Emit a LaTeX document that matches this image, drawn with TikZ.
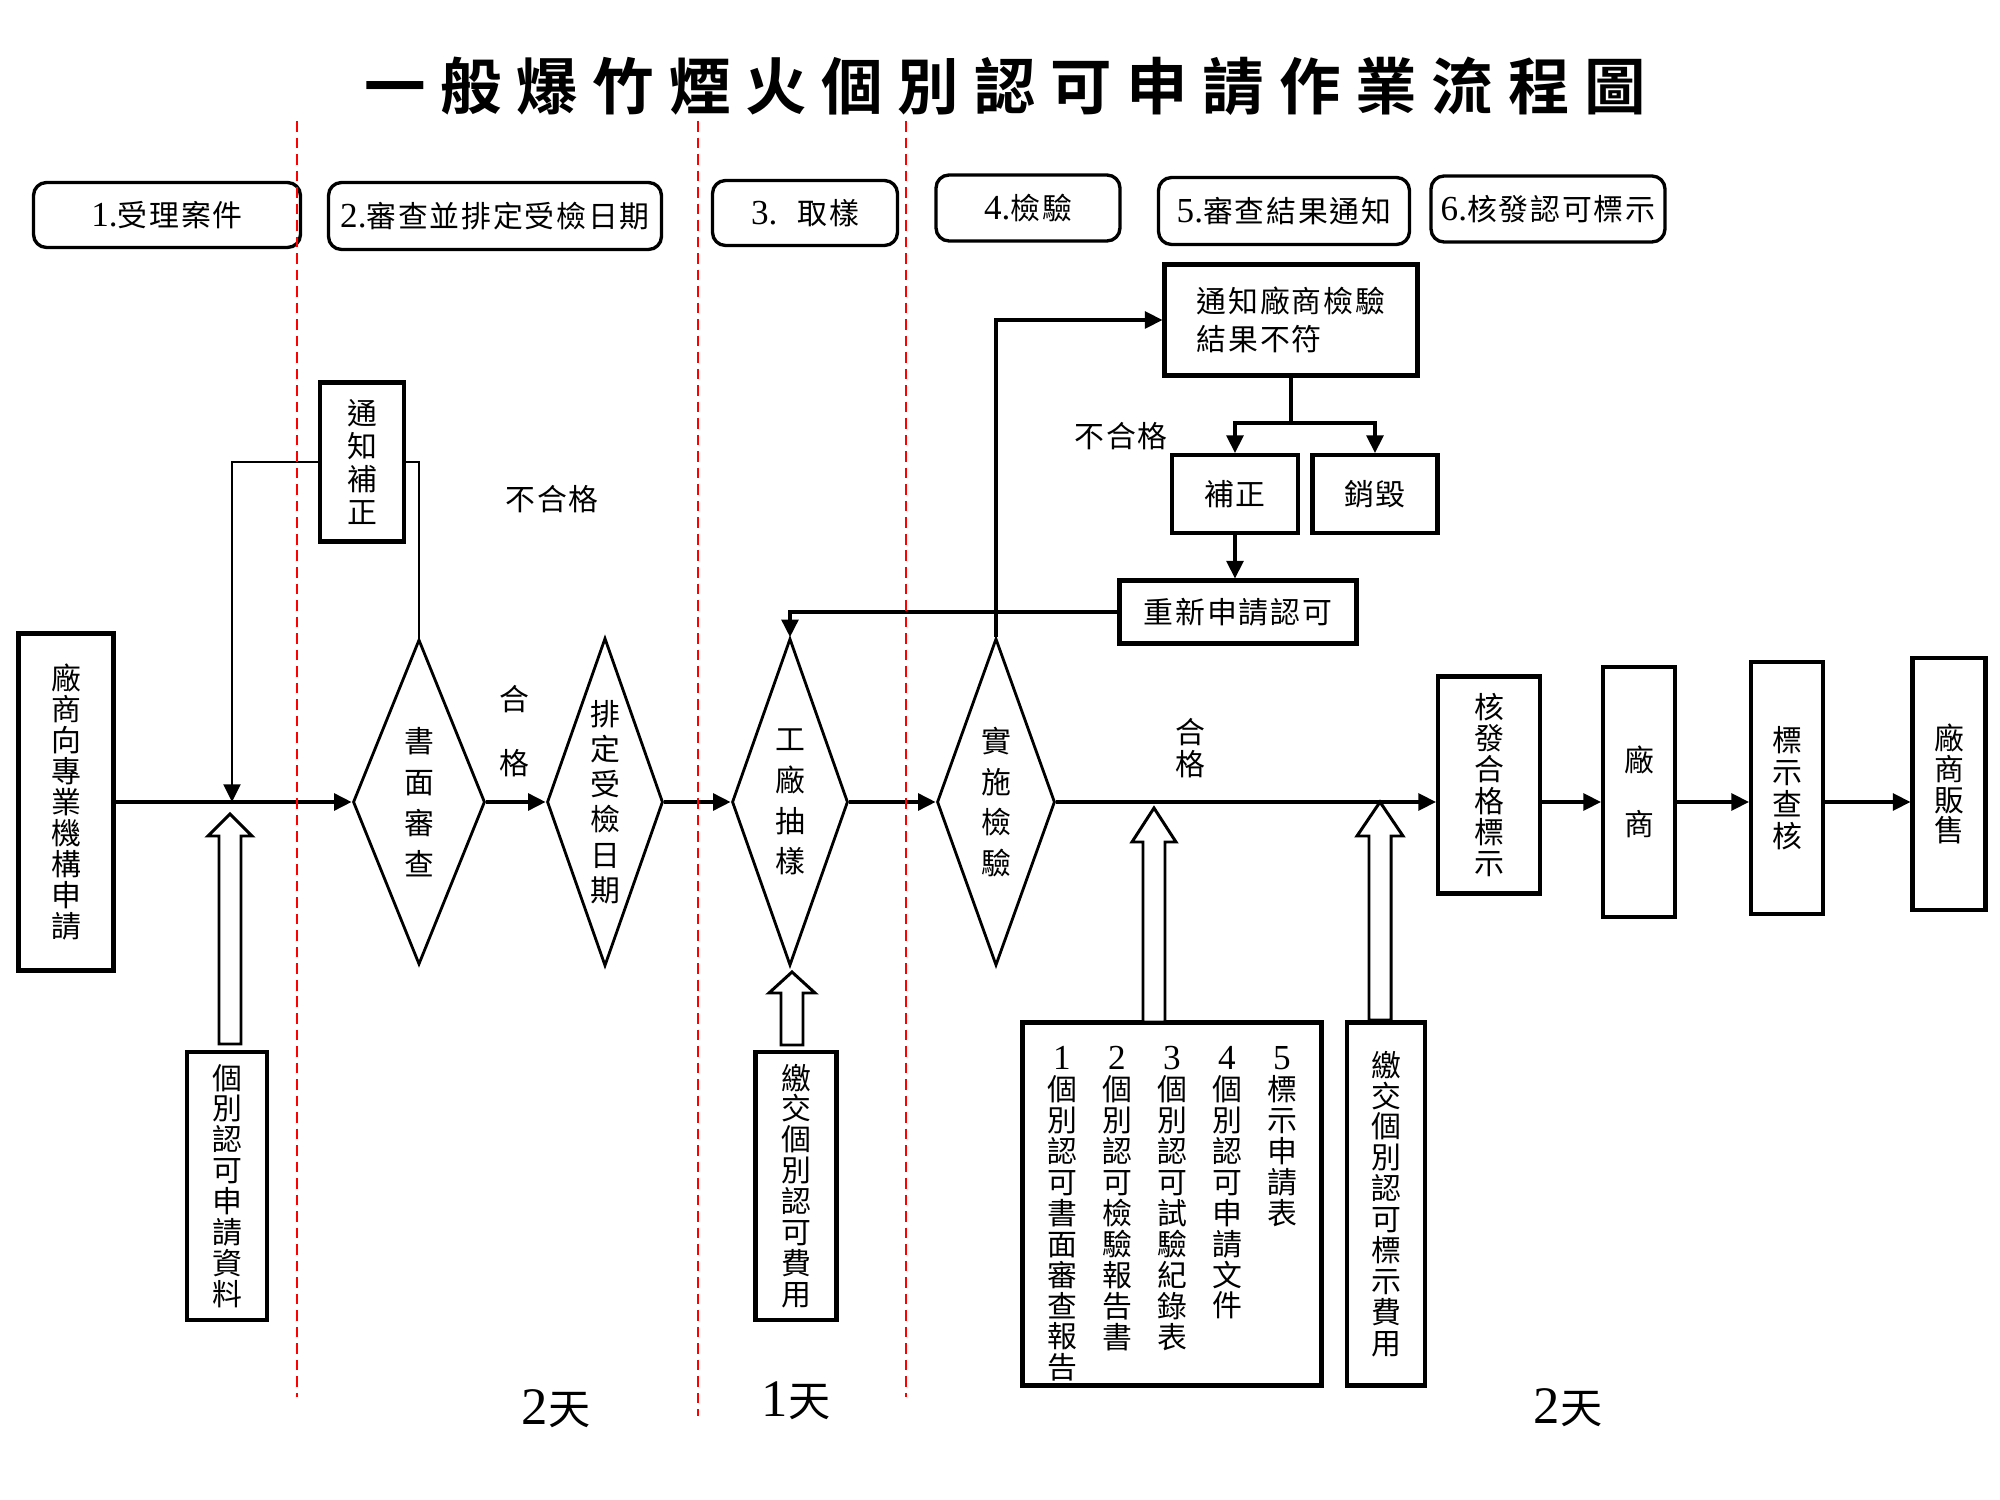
\documentclass[tikz,border=0pt]{standalone}
\usepackage{fontspec}
\setmainfont{Liberation Serif}
\newfontfamily\cjk[LetterSpace=6]{Noto Sans CJK TC}
\newfontfamily\cjkbold[LetterSpace=24]{Noto Sans CJK TC Bold}
\usetikzlibrary{shapes.geometric,arrows.meta}

% number in front of a stage title
\newcommand{\stagenum}[1]{{\rmfamily\fontsize{10}{10}\selectfont #1.}}
% hollow block arrow: x, tip y, bottom y, head length, head half width
\newcommand{\upblock}[5]{%
  \draw[blockarrow] (#1,#2) -- (#1+#5,#2+#4) -- (#1+11,#2+#4) -- (#1+11,#3)
    -- (#1-11,#3) -- (#1-11,#2+#4) -- (#1-#5,#2+#4) -- cycle;}

\begin{document}
\begin{tikzpicture}[x=0.1mm, y=-0.1mm,
  stagebox/.style={draw, line width=0.95pt, rounded corners=1.3mm, inner sep=0pt, font=\cjk\fontsize{8.5}{10}\selectfont},
  box/.style={draw, line width=1.15pt, inner sep=0pt, align=center, font=\cjk\fontsize{8.5}{9.2}\selectfont},
  decision/.style={draw, diamond, line width=0.8pt, inner sep=0pt, shape aspect=0.36, align=center, font=\cjk\fontsize{8.5}{11.6}\selectfont},
  arr/.style={-{Triangle[length=5pt,width=4.8pt]}, line width=0.95pt},
  sepline/.style={red, line width=0.75pt, dash pattern=on 3pt off 1.7pt},
  blockarrow/.style={draw, line width=0.85pt, fill=white},
  note/.style={align=center, font=\cjk\fontsize{8.5}{9.2}\selectfont}]

\useasboundingbox (0,0) rectangle (2000,1500);

\node[font=\cjkbold\fontsize{17.5}{19}\selectfont] (title) at (1005,86) {一般爆竹煙火個別認可申請作業流程圖};

% stages
\node[stagebox, minimum width=26.7mm, minimum height=6.5mm] (s1) at (167,215) {\stagenum{1}受理案件};
\node[stagebox, minimum width=33.3mm, minimum height=6.7mm] (s2) at (495,216) {\stagenum{2}審查並排定受檢日期};
\node[stagebox, minimum width=18.5mm, minimum height=6.5mm] (s3) at (805,213) {\stagenum{3}\hspace{2mm}取樣};
\node[stagebox, minimum width=18.4mm, minimum height=6.6mm] (s4) at (1028,208) {\stagenum{4}檢驗};
\node[stagebox, minimum width=25.1mm, minimum height=6.7mm] (s5) at (1284,211) {\stagenum{5}審查結果通知};
\node[stagebox, minimum width=23.4mm, minimum height=6.6mm] (s6) at (1548,209) {\stagenum{6}核發認可標示};

% main flow
\node[box, minimum width=9.5mm, minimum height=33.7mm, font=\cjk\fontsize{8.5}{8.8}\selectfont] (apply) at (66,802) {廠\\商\\向\\專\\業\\機\\構\\申\\請};
\node[box, minimum width=8.4mm, minimum height=15.9mm, font=\cjk\fontsize{8.5}{9.4}\selectfont] (notice) at (362,462) {通\\知\\補\\正};
\node[decision, minimum width=13.2mm, minimum height=32.5mm] (shumian) at (419,802) {書\\面\\審\\查};
\node[decision, minimum width=11.6mm, minimum height=32.8mm, font=\cjk\fontsize{8.5}{10}\selectfont] (paiding) at (605,802) {排\\定\\受\\檢\\日\\期};
\node[decision, minimum width=11.6mm, minimum height=32.7mm] (chouyang) at (790,802) {工\\廠\\抽\\樣};
\node[decision, minimum width=11.8mm, minimum height=32.7mm] (shishi) at (996,802) {實\\施\\檢\\驗};

\node[box, minimum width=25.3mm, minimum height=11.1mm, align=left, font=\cjk\fontsize{8.5}{11}\selectfont] (notify) at (1291,320) {通知廠商檢驗\\結果不符};
\node[box, minimum width=12.6mm, minimum height=7.8mm] (buzheng) at (1235,494) {補正};
\node[box, minimum width=12.5mm, minimum height=7.8mm] (xiaohui) at (1375,494) {銷毀};
\node[box, minimum width=23.7mm, minimum height=6.3mm] (reapply) at (1238,612) {重新申請認可};

\node[box, minimum width=10.2mm, minimum height=21.7mm, font=\cjk\fontsize{8.5}{8.9}\selectfont] (hefa) at (1489,785) {核\\發\\合\\格\\標\\示};
\node[box, minimum width=7.2mm, minimum height=25mm, font=\cjk\fontsize{8.5}{18.2}\selectfont] (changshang) at (1639,792) {廠\\商};
\node[box, minimum width=7.2mm, minimum height=25.2mm, font=\cjk\fontsize{8.5}{9.1}\selectfont] (chahe) at (1787,788) {標\\示\\查\\核};
\node[box, minimum width=7.3mm, minimum height=25.2mm, font=\cjk\fontsize{8.5}{8.8}\selectfont] (sale) at (1949,784) {廠\\商\\販\\售};

% inputs
\node[box, minimum width=8mm, minimum height=26.8mm, font=\cjk\fontsize{8.5}{8.8}\selectfont] (data) at (227,1186) {個\\別\\認\\可\\申\\請\\資\\料};
\node[box, minimum width=8.1mm, minimum height=26.8mm, font=\cjk\fontsize{8.5}{8.8}\selectfont] (fee1) at (796,1186) {繳\\交\\個\\別\\認\\可\\費\\用};
\node[box, minimum width=29.9mm, minimum height=36.3mm] (docs) at (1172,1204) {};
\node[box, minimum width=7.8mm, minimum height=36.3mm, font=\cjk\fontsize{8.5}{8.8}\selectfont] (fee2) at (1386,1204) {繳\\交\\個\\別\\認\\可\\標\\示\\費\\用};

\foreach \col/\txt [count=\i] in {1062/{個\\別\\認\\可\\書\\面\\審\\查\\報\\告},
    1117/{個\\別\\認\\可\\檢\\驗\\報\\告\\書}, 1172/{個\\別\\認\\可\\試\\驗\\紀\\錄\\表},
    1227/{個\\別\\認\\可\\申\\請\\文\\件}, 1282/{標\\示\\申\\請\\表}}
  \node[note, anchor=north, font=\cjk\fontsize{8.5}{8.8}\selectfont] (doc\i) at (\col,1034) {{\rmfamily\fontsize{10}{10}\selectfont\i}\\\txt};

% labels
\node[note] (fail1) at (552,499) {不合格};
\node[note] (fail2) at (1121,436) {不合格};
\node[note, font=\cjk\fontsize{8.5}{18}\selectfont] (pass1) at (514,731) {合\\格};
\node[note] (pass2) at (1190,748) {合\\格};

\node[font=\cjk\fontsize{12}{12}\selectfont] (d1) at (556,1409) {{\rmfamily\fontsize{15}{15}\selectfont 2}天};
\node[font=\cjk\fontsize{12}{12}\selectfont] (d2) at (796,1401) {{\rmfamily\fontsize{15}{15}\selectfont 1}天};
\node[font=\cjk\fontsize{12}{12}\selectfont] (d3) at (1568,1408) {{\rmfamily\fontsize{15}{15}\selectfont 2}天};

% hollow arrows
\upblock{230}{814}{1044}{22}{22}
\upblock{792}{972}{1045}{21}{23}
\upblock{1154}{808}{1022}{34}{22}
\upblock{1380}{802}{1020}{34}{23}

% connectors
\draw[arr] (apply.east) -- (shumian.west);
\draw[arr] (shumian.east) -- (paiding.west);
\draw[arr] (paiding.east) -- (chouyang.west);
\draw[arr] (chouyang.east) -- (shishi.west);
\draw[arr] (shishi.east) -- (shishi.east -| hefa.west);
\draw[arr] (hefa.east |- shishi.east) -- (changshang.west |- shishi.east);
\draw[arr] (changshang.east |- shishi.east) -- (chahe.west |- shishi.east);
\draw[arr] (chahe.east |- shishi.east) -- (sale.west |- shishi.east);

\coordinate (join) at (232,802);
\draw[line width=0.7pt] (shumian.north) |- (notice.east);
\draw[arr, line width=0.7pt] (notice.west) -| (join);

\draw[arr] (shishi.north) |- (notify.west);
\coordinate (fork) at (1291,423);
\draw[line width=0.95pt] (notify.south) -- (fork);
\draw[arr] (fork) -| (buzheng.north);
\draw[arr] (fork) -| (xiaohui.north);
\draw[arr] (buzheng.south) -- (buzheng.south |- reapply.north);
\draw[arr] (reapply.west) -| (chouyang.north);

% stage borders
\foreach \x/\yb in {297/1397, 698/1416, 906/1397}
  \draw[sepline] (\x,121) -- (\x,\yb);

\end{tikzpicture}
\end{document}
